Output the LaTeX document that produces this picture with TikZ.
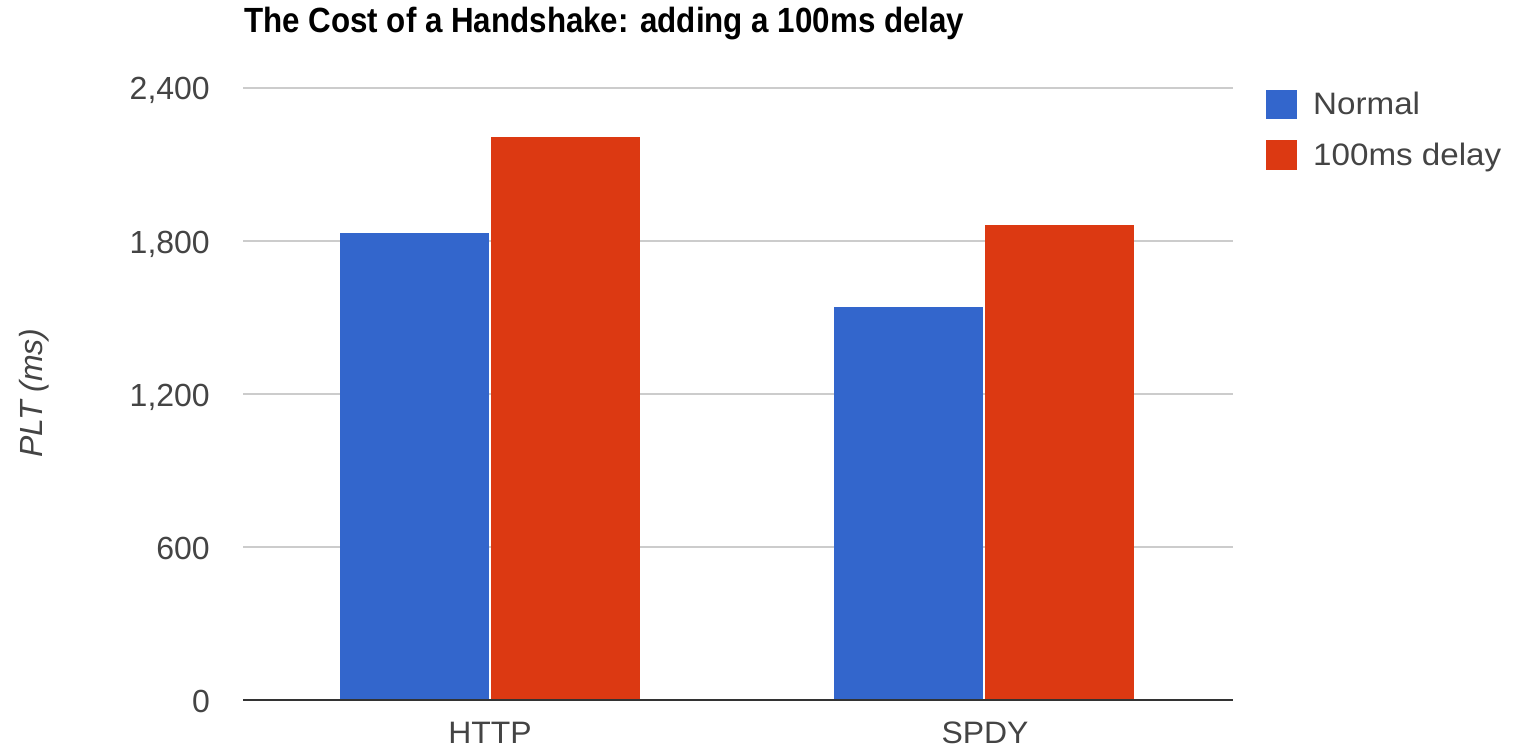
\documentclass[tikz,border=0pt]{standalone}
\usepackage{fontspec}
\setmainfont{Liberation Sans}
\definecolor{gblue}{HTML}{3366CC}
\definecolor{gred}{HTML}{DC3912}
\definecolor{grid}{HTML}{CCCCCC}
\definecolor{axis}{HTML}{333333}
\definecolor{lbl}{HTML}{444444}
\begin{document}
\begin{tikzpicture}[x=1pt,y=-1pt,
  ticklbl/.style={anchor=base east,inner sep=0pt,text=lbl,font=\fontsize{32}{36}\selectfont},
  catlbl/.style={anchor=base,inner sep=0pt,text=lbl,font=\fontsize{31}{35}\selectfont},
  leglbl/.style={anchor=base west,inner sep=0pt,text=lbl,font=\fontsize{31}{35}\selectfont},
  gridline/.style={draw=grid,line width=2pt},
  bar/.style={inner sep=0pt,outer sep=0pt}]
\useasboundingbox[fill=white] (0,0) rectangle (1517,749);
% title
\node[anchor=base west,inner sep=0pt,font=\fontsize{35}{40}\selectfont\bfseries] (title) at (244,33) {\scalebox{0.895}[1]{The Cost of a Handshake: adding a 100ms delay}};
% gridlines
\foreach \y/\v in {88/2{,}400,241/1{,}800,394/1{,}200,547/600}{
  \draw[gridline] (243,\y) -- (1233,\y);
  \node[ticklbl] at (210,\y+12) {\v};
}
\node[ticklbl] (t0) at (210,712) {0};
% bars
\fill[gblue] (340,700) rectangle (489,233);
\fill[gred] (491,700) rectangle (640,137);
\fill[gblue] (834,700) rectangle (983,307);
\fill[gred] (985,700) rectangle (1134,225);
% axis
\draw[draw=axis,line width=2pt] (243,700) -- (1233,700);
\node[catlbl] (http) at (490,743) {\scalebox{1.03}[1]{HTTP}};
\node[catlbl] (spdy) at (985,743) {\scalebox{1.03}[1]{SPDY}};
% y label
\node[rotate=90,inner sep=0pt,text=lbl,font=\fontsize{32}{36}\selectfont\itshape] (ylab) at (34,393) {PLT (ms)};
% legend
\fill[gblue] (1266,90) rectangle (1297,119);
\node[leglbl] (ln) at (1313,115) {\scalebox{1.07}[1]{Normal}};
\fill[gred] (1266,140) rectangle (1297,170);
\node[leglbl] (ld) at (1313,165) {\scalebox{1.07}[1]{100ms delay}};
\end{tikzpicture}
\end{document}
